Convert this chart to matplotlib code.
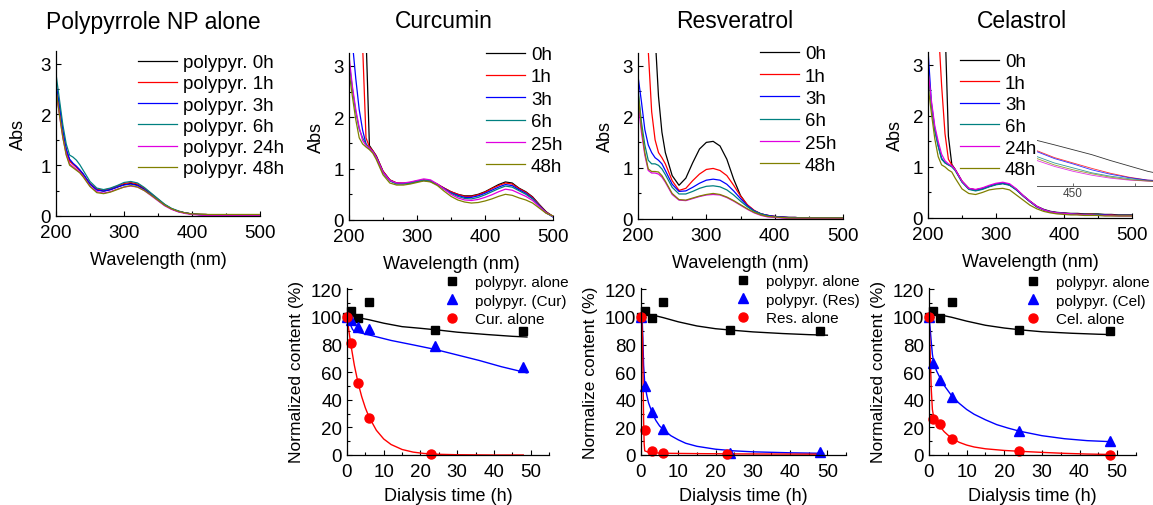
import matplotlib
matplotlib.use("Agg")
import matplotlib.pyplot as plt
from matplotlib.ticker import MultipleLocator

plt.rcParams['font.family'] = ['Liberation Sans', 'DejaVu Sans']

W, H = 1153, 506

# ---- UV-vis spectra (Abs vs wavelength) ----
WL = [200, 205, 210, 215, 220, 225, 230, 235, 240,
      250, 260, 270, 280, 290, 300, 310, 320, 330, 340,
      350, 360, 370, 380, 390, 400, 410, 420, 430, 440,
      450, 460, 470, 480, 490, 500]

ppy_0h = [2.55, 2.10, 1.65, 1.30, 1.10, 1.03, 0.97, 0.90, 0.82,
          0.63, 0.52, 0.49, 0.52, 0.57, 0.62, 0.64, 0.61, 0.53, 0.43,
          0.32, 0.22, 0.14, 0.09, 0.06, 0.04, 0.03, 0.03, 0.02, 0.02,
          0.02, 0.02, 0.02, 0.02, 0.02, 0.02]
ppy_1h = [2.50, 2.05, 1.62, 1.28, 1.08, 1.02, 0.96, 0.89, 0.81,
          0.64, 0.53, 0.51, 0.54, 0.59, 0.64, 0.66, 0.63, 0.55, 0.44,
          0.33, 0.22, 0.14, 0.09, 0.06, 0.04, 0.03, 0.03, 0.02, 0.02,
          0.02, 0.02, 0.02, 0.02, 0.02, 0.02]
ppy_3h = [2.60, 2.20, 1.70, 1.32, 1.12, 1.04, 0.98, 0.91, 0.83,
          0.63, 0.51, 0.49, 0.52, 0.57, 0.61, 0.63, 0.60, 0.52, 0.42,
          0.31, 0.21, 0.14, 0.09, 0.06, 0.04, 0.03, 0.02, 0.02, 0.02,
          0.02, 0.02, 0.02, 0.02, 0.02, 0.02]
ppy_6h = [2.80, 2.30, 1.80, 1.42, 1.20, 1.16, 1.10, 1.01, 0.90,
          0.68, 0.55, 0.52, 0.55, 0.60, 0.66, 0.68, 0.65, 0.56, 0.45,
          0.34, 0.23, 0.15, 0.10, 0.06, 0.04, 0.03, 0.03, 0.02, 0.02,
          0.02, 0.02, 0.02, 0.02, 0.02, 0.02]
ppy_24h = [2.45, 2.00, 1.55, 1.22, 1.03, 0.97, 0.92, 0.86, 0.78,
           0.59, 0.48, 0.45, 0.48, 0.53, 0.57, 0.59, 0.57, 0.50, 0.40,
           0.30, 0.20, 0.13, 0.08, 0.05, 0.03, 0.02, 0.01, 0.01, 0.01,
           0.01, 0.01, 0.01, 0.01, 0.01, 0.01]
ppy_48h = [2.50, 2.00, 1.55, 1.20, 1.00, 0.95, 0.90, 0.85, 0.77,
           0.58, 0.46, 0.44, 0.47, 0.52, 0.57, 0.60, 0.57, 0.50, 0.41,
           0.31, 0.21, 0.14, 0.09, 0.06, 0.04, 0.04, 0.03, 0.03, 0.03,
           0.03, 0.03, 0.03, 0.03, 0.03, 0.03]

cur_0h = [6.00, 6.00, 6.00, 5.50, 4.80, 3.60, 1.45, 1.35, 1.25,
          0.95, 0.78, 0.72, 0.71, 0.72, 0.75, 0.77, 0.75, 0.69, 0.62,
          0.55, 0.50, 0.47, 0.47, 0.50, 0.55, 0.62, 0.69, 0.74, 0.72,
          0.62, 0.55, 0.45, 0.30, 0.16, 0.07]
cur_1h = [6.00, 6.00, 5.50, 4.60, 3.40, 1.60, 1.42, 1.35, 1.25,
          0.95, 0.78, 0.72, 0.72, 0.73, 0.76, 0.78, 0.76, 0.70, 0.62,
          0.55, 0.50, 0.46, 0.46, 0.49, 0.54, 0.61, 0.67, 0.72, 0.70,
          0.61, 0.54, 0.44, 0.29, 0.15, 0.07]
cur_3h = [4.00, 3.45, 2.75, 2.15, 1.75, 1.48, 1.38, 1.33, 1.23,
          0.93, 0.77, 0.71, 0.71, 0.72, 0.75, 0.77, 0.75, 0.69, 0.61,
          0.53, 0.48, 0.44, 0.44, 0.47, 0.52, 0.58, 0.64, 0.69, 0.67,
          0.59, 0.52, 0.42, 0.28, 0.14, 0.06]
cur_6h = [3.10, 2.55, 2.10, 1.77, 1.60, 1.48, 1.40, 1.33, 1.22,
          0.92, 0.76, 0.70, 0.70, 0.72, 0.75, 0.78, 0.76, 0.69, 0.60,
          0.52, 0.46, 0.42, 0.41, 0.44, 0.49, 0.55, 0.61, 0.66, 0.64,
          0.57, 0.50, 0.41, 0.27, 0.14, 0.06]
cur_25h = [3.20, 2.60, 2.15, 1.80, 1.55, 1.45, 1.40, 1.33, 1.22,
           0.93, 0.77, 0.72, 0.72, 0.74, 0.77, 0.80, 0.78, 0.70, 0.60,
           0.50, 0.43, 0.39, 0.38, 0.40, 0.44, 0.49, 0.55, 0.60, 0.58,
           0.52, 0.46, 0.38, 0.26, 0.14, 0.07]
cur_48h = [2.90, 2.40, 1.95, 1.60, 1.48, 1.42, 1.37, 1.30, 1.18,
           0.88, 0.72, 0.68, 0.68, 0.70, 0.73, 0.76, 0.74, 0.67, 0.56,
           0.46, 0.39, 0.35, 0.33, 0.34, 0.37, 0.41, 0.46, 0.50, 0.48,
           0.43, 0.39, 0.33, 0.23, 0.13, 0.08]

res_0h = [6.00, 6.00, 6.00, 6.00, 5.00, 3.60, 2.40, 1.70, 1.30,
          0.85, 0.66, 0.80, 1.10, 1.37, 1.50, 1.52, 1.43, 1.17, 0.78,
          0.46, 0.27, 0.16, 0.10, 0.07, 0.05, 0.04, 0.03, 0.03, 0.02,
          0.02, 0.02, 0.02, 0.02, 0.02, 0.02]
res_1h = [6.00, 5.00, 4.20, 3.30, 2.10, 1.55, 1.30, 1.20, 1.08,
          0.75, 0.56, 0.60, 0.75, 0.88, 0.97, 0.99, 0.95, 0.85, 0.66,
          0.45, 0.28, 0.17, 0.10, 0.07, 0.05, 0.04, 0.03, 0.03, 0.02,
          0.02, 0.02, 0.02, 0.02, 0.02, 0.02]
res_3h = [2.80, 2.30, 1.75, 1.45, 1.30, 1.20, 1.15, 1.08, 0.95,
          0.68, 0.54, 0.55, 0.62, 0.70, 0.76, 0.78, 0.76, 0.68, 0.55,
          0.40, 0.26, 0.16, 0.10, 0.07, 0.05, 0.04, 0.03, 0.03, 0.02,
          0.02, 0.02, 0.02, 0.02, 0.02, 0.02]
res_6h = [2.55, 1.90, 1.45, 1.15, 1.08, 1.08, 1.05, 0.98, 0.87,
          0.62, 0.49, 0.49, 0.54, 0.60, 0.64, 0.65, 0.63, 0.57, 0.47,
          0.35, 0.24, 0.15, 0.10, 0.06, 0.04, 0.03, 0.03, 0.02, 0.02,
          0.02, 0.02, 0.02, 0.02, 0.02, 0.02]
res_25h = [2.30, 1.70, 1.25, 0.95, 0.90, 0.90, 0.88, 0.82, 0.72,
           0.48, 0.37, 0.36, 0.40, 0.44, 0.47, 0.48, 0.47, 0.42, 0.35,
           0.27, 0.19, 0.12, 0.07, 0.04, 0.03, 0.02, 0.01, 0.01, 0.01,
           0.01, 0.01, 0.01, 0.01, 0.01, 0.01]
res_48h = [2.50, 1.80, 1.30, 0.98, 0.93, 0.93, 0.92, 0.85, 0.74,
           0.50, 0.38, 0.37, 0.41, 0.45, 0.48, 0.50, 0.48, 0.43, 0.36,
           0.28, 0.20, 0.13, 0.08, 0.05, 0.04, 0.03, 0.02, 0.02, 0.02,
           0.02, 0.02, 0.02, 0.02, 0.02, 0.02]

cel_0h = [6.00, 6.00, 6.00, 5.50, 4.80, 3.80, 1.60, 1.05, 0.95,
          0.72, 0.58, 0.55, 0.58, 0.62, 0.66, 0.68, 0.65, 0.56, 0.44,
          0.33, 0.23, 0.17, 0.13, 0.11, 0.10, 0.09, 0.09, 0.08, 0.08,
          0.08, 0.07, 0.07, 0.06, 0.06, 0.06]
cel_1h = [6.00, 5.20, 4.50, 3.80, 2.60, 1.65, 1.15, 1.04, 0.95,
          0.72, 0.58, 0.55, 0.58, 0.62, 0.66, 0.68, 0.65, 0.56, 0.43,
          0.32, 0.22, 0.16, 0.12, 0.10, 0.09, 0.08, 0.08, 0.07, 0.07,
          0.06, 0.06, 0.06, 0.05, 0.05, 0.05]
cel_3h = [3.30, 2.25, 1.75, 1.42, 1.17, 1.08, 1.04, 1.02, 0.94,
          0.71, 0.57, 0.54, 0.57, 0.62, 0.66, 0.68, 0.65, 0.55, 0.43,
          0.32, 0.22, 0.16, 0.12, 0.10, 0.09, 0.08, 0.07, 0.07, 0.06,
          0.06, 0.06, 0.05, 0.05, 0.05, 0.05]
cel_6h = [2.90, 2.20, 1.70, 1.40, 1.15, 1.08, 1.04, 1.00, 0.93,
          0.70, 0.56, 0.53, 0.56, 0.61, 0.65, 0.67, 0.64, 0.55, 0.43,
          0.32, 0.22, 0.16, 0.12, 0.10, 0.09, 0.08, 0.07, 0.07, 0.06,
          0.06, 0.05, 0.05, 0.05, 0.05, 0.05]
cel_24h = [2.90, 2.30, 1.80, 1.50, 1.25, 1.12, 1.06, 1.02, 0.95,
           0.72, 0.58, 0.56, 0.59, 0.64, 0.68, 0.70, 0.67, 0.57, 0.44,
           0.33, 0.23, 0.16, 0.12, 0.10, 0.09, 0.08, 0.07, 0.06, 0.06,
           0.05, 0.05, 0.05, 0.04, 0.04, 0.04]
cel_48h = [2.60, 2.05, 1.55, 1.20, 1.04, 1.00, 0.94, 0.90, 0.78,
           0.57, 0.48, 0.46, 0.50, 0.55, 0.57, 0.58, 0.55, 0.45, 0.35,
           0.25, 0.18, 0.13, 0.10, 0.08, 0.07, 0.06, 0.06, 0.05, 0.05,
           0.05, 0.04, 0.04, 0.04, 0.04, 0.04]

# zoomed inset of celastrol spectra around 450 nm (relative units)
WL_INSET = [421, 435, 450, 465, 480, 495, 510, 525]
inset_0h = [0.93, 0.84, 0.74, 0.64, 0.52, 0.41, 0.30, 0.22]
inset_1h = [0.72, 0.58, 0.47, 0.36, 0.26, 0.18, 0.12, 0.10]
inset_3h = [0.70, 0.56, 0.45, 0.33, 0.24, 0.17, 0.12, 0.10]
inset_6h = [0.60, 0.47, 0.37, 0.27, 0.20, 0.15, 0.11, 0.09]
inset_24h = [0.52, 0.40, 0.30, 0.22, 0.16, 0.12, 0.10, 0.09]
inset_48h = [0.56, 0.43, 0.33, 0.25, 0.18, 0.13, 0.10, 0.08]

ppy_labels = ['polypyr. 0h', 'polypyr. 1h', 'polypyr. 3h',
              'polypyr. 6h', 'polypyr. 24h', 'polypyr. 48h']
cur_labels = ['0h', '1h', '3h', '6h', '25h', '48h']
res_labels = ['0h', '1h', '3h', '6h', '25h', '48h']
cel_labels = ['0h', '1h', '3h', '6h', '24h', '48h']

COLORS = ['#000000', '#FF0000', '#0000FF', '#008080', '#E000E0', '#808000']

# ---- dialysis release data ----
T = [0, 1, 3, 6, 24, 48]
ppy_alone = [100, 104, 99, 110.5, 90.5, 90]

ppy_cur = [100, 97.5, 93, 91.5, 79, 63.5]
T_cur_alone = [0, 1, 3, 6, 23]
cur_alone = [100, 81.5, 52.5, 26.5, 0.5]

ppy_res = [100, 50, 31, 18.5, 1.5, 2.2]
T_res_alone = [0, 1, 3, 6, 23]
res_alone = [100, 18, 3, 1.5, 0.8]

ppy_cel = [100, 66.5, 54, 42, 17.5, 10.5]
cel_alone = [100, 26, 22.5, 11.5, 3, 0.2]

# fitted curves
fit_ppy_cur_t = [0, 1, 3, 6, 10, 15, 20, 25, 30, 38, 45, 49]
fit_ppy_cur = [101, 100.5, 99.5, 98, 95.5, 93, 91.8, 90.5, 89, 87.3, 86, 85.5]
fit_pc_t = [0, 0.5, 1, 1.5, 2, 6, 12, 18, 24, 30, 36, 42, 49]
fit_pc = [100, 97, 94, 91, 89.5, 87, 83, 79.8, 76.5, 72.5, 68.5, 64, 59.5]
fit_cur_t = [0, 1, 2, 3, 4, 5, 6, 8, 10, 12, 15, 18, 21, 25, 30, 40, 48]
fit_cur = [100, 80.7, 65, 52.4, 42.3, 34.1, 27.5, 17.9, 11.6, 7.6, 4.0,
           2.1, 1.1, 0.5, 0.2, 0.0, 0.0]

fit_ppy_res_t = [0, 3, 6, 10, 15, 20, 25, 30, 38, 45, 50]
fit_ppy_res = [102.5, 101.5, 99.5, 96.5, 93.5, 91.5, 90.3, 89.2, 88, 87.2, 86.8]
fit_pr_t = [0.3, 0.5, 0.7, 1.0, 1.5, 2, 3, 4, 5, 6, 8, 10, 12, 15, 20, 25,
            30, 40, 49]
fit_pr = [100, 85, 65, 52, 44, 38, 30.5, 25, 21, 18.5, 14, 11, 8.5, 6.3,
          4.2, 3.0, 2.3, 1.6, 1.2]
fit_res_t = [0, 0.2, 0.4, 0.55, 0.7, 0.85, 1.0, 2, 4, 8, 15, 25, 35, 48]
fit_res = [100, 98, 85, 55, 25, 8, 3, 2, 1.5, 1.2, 1, 0.8, 0.7, 0.6]

fit_ppy_cel_t = [0, 3, 6, 10, 15, 20, 25, 30, 38, 45, 49]
fit_ppy_cel = [102.5, 101.5, 99.8, 97, 94, 92, 90.5, 89.3, 88.2, 87.5, 87.2]
fit_pl_t = [0, 0.3, 0.6, 0.9, 1.2, 2, 3, 4, 6, 8, 10, 12, 15, 18, 21, 24,
            30, 36, 42, 48]
fit_pl = [100, 92, 82, 73, 68, 61, 55.5, 50.5, 43, 37.5, 33, 29.5, 25.5, 22,
          19.5, 17.3, 14, 11.8, 10.4, 9.7]
fit_cel_t = [0, 0.3, 0.6, 0.9, 1.2, 2, 3, 4, 5, 6, 8, 10, 12, 15, 20, 24,
             30, 36, 42, 48]
fit_cel = [100, 75, 48, 33, 28, 24.5, 20.5, 17, 14.5, 12.3, 9.2, 7.2, 5.8,
           4.5, 3.3, 2.7, 1.9, 1.2, 0.7, 0.4]


def px_rect(x0, y_top, x1, y_bot):
    return [x0 / W, 1 - y_bot / H, (x1 - x0) / W, (y_bot - y_top) / H]


def fig_xy(x, y):
    return (x / W, 1 - y / H)


def style_axis(ax):
    for s in ['top', 'right']:
        ax.spines[s].set_visible(False)
    for s in ['left', 'bottom']:
        ax.spines[s].set_linewidth(0.9)
    ax.tick_params(which='both', direction='in', width=0.8, labelsize=13.5)
    ax.tick_params(which='major', length=3.5)
    ax.tick_params(which='minor', length=2)
    # push x tick labels a little lower so they clear the "0" of the y axis
    ax.tick_params(axis='x', which='major', pad=6)


def plot_spectra(fig, ax, series, labels, leg_x, leg_top, ylabel_pad, spacing):
    for ys, lab, c in zip(series, labels, COLORS):
        ax.plot(WL, ys, color=c, lw=0.9, label=lab)
    ax.set_xlim(200, 500)
    ax.set_ylim(0, 3.25)
    ax.set_xticks([200, 300, 400, 500])
    ax.xaxis.set_minor_locator(MultipleLocator(50))
    ax.set_yticks([0, 1, 2, 3])
    ax.yaxis.set_minor_locator(MultipleLocator(0.5))
    style_axis(ax)
    ax.set_ylabel('Abs', fontsize=13, labelpad=ylabel_pad)
    ax.set_xlabel('Wavelength (nm)', fontsize=13, labelpad=7)
    ax.legend(loc='upper left', bbox_to_anchor=fig_xy(leg_x, leg_top),
              bbox_transform=fig.transFigure, frameon=False, fontsize=13.5,
              handlelength=2.1, handletextpad=0.3, labelspacing=spacing,
              borderpad=0, borderaxespad=0)


def plot_release(fig, ax, pts, fits, labels, ylabel, leg_x, leg_top):
    (t_b, y_b), (t_u, y_u), (t_r, y_r) = pts
    (ft_b, fy_b), (ft_u, fy_u), (ft_r, fy_r) = fits
    ax.plot(ft_b, fy_b, color='black', lw=1.0)
    ax.plot(ft_u, fy_u, color='#0000FF', lw=1.0)
    ax.plot(ft_r, fy_r, color='#FF0000', lw=1.0)
    ax.plot(t_b, y_b, 's', color='black', ms=6, ls='none', label=labels[0],
            clip_on=False)
    ax.plot(t_u, y_u, '^', color='#0000FF', ms=7.5, ls='none',
            label=labels[1], clip_on=False)
    ax.plot(t_r, y_r, 'o', color='#FF0000', ms=6.5, ls='none',
            label=labels[2], clip_on=False)
    ax.set_xlim(0, 55)
    ax.set_ylim(0, 121)
    ax.set_xticks([0, 10, 20, 30, 40, 50])
    ax.xaxis.set_minor_locator(MultipleLocator(5))
    ax.set_yticks([0, 20, 40, 60, 80, 100, 120])
    ax.yaxis.set_minor_locator(MultipleLocator(10))
    style_axis(ax)
    ax.set_ylabel(ylabel, fontsize=12.5, labelpad=5)
    ax.set_xlabel('Dialysis time (h)', fontsize=13, labelpad=4.5)
    ax.legend(loc='upper left', bbox_to_anchor=fig_xy(leg_x, leg_top),
              bbox_transform=fig.transFigure, frameon=False, fontsize=11,
              handlelength=1.0, handletextpad=1.0, labelspacing=0.3,
              borderpad=0, borderaxespad=0, numpoints=1)


def main():
    fig = plt.figure(figsize=(W / 100, H / 100), dpi=100)

    ax1 = fig.add_axes(px_rect(56, 52, 260, 217))
    ax2 = fig.add_axes(px_rect(349, 54, 553, 221))
    ax3 = fig.add_axes(px_rect(638, 54, 843, 220))
    ax4 = fig.add_axes(px_rect(928, 53, 1132, 219))

    plot_spectra(fig, ax1, [ppy_0h, ppy_1h, ppy_3h, ppy_6h, ppy_24h, ppy_48h],
                 ppy_labels, 138, 55, 10, 0.22)
    plot_spectra(fig, ax2, [cur_0h, cur_1h, cur_3h, cur_6h, cur_25h, cur_48h],
                 cur_labels, 486, 47, 6, 0.28)
    plot_spectra(fig, ax3, [res_0h, res_1h, res_3h, res_6h, res_25h, res_48h],
                 res_labels, 760, 46, 6, 0.28)
    plot_spectra(fig, ax4, [cel_0h, cel_1h, cel_3h, cel_6h, cel_24h, cel_48h],
                 cel_labels, 960, 54, 6, 0.24)

    # inset on the celastrol panel
    axi = fig.add_axes(px_rect(1037, 138, 1190, 187))
    axi.set_facecolor('none')
    for ys, c in zip([inset_0h, inset_1h, inset_3h, inset_6h, inset_24h,
                      inset_48h], COLORS):
        axi.plot(WL_INSET, ys, color=c, lw=0.6, alpha=0.8)
    axi.set_xlim(421, 544)
    axi.set_ylim(0, 1)
    for s in ['top', 'right', 'left']:
        axi.spines[s].set_visible(False)
    axi.spines['bottom'].set_color('#555555')
    axi.spines['bottom'].set_linewidth(0.7)
    axi.set_yticks([])
    axi.set_xticks([450])
    axi.set_xticks([500], minor=True)
    axi.tick_params(which='both', direction='in', length=2, width=0.6,
                    color='#555555', labelsize=8.5, labelcolor='#444444', pad=1)

    titles = [('Polypyrrole NP alone', 153), ('Curcumin', 444),
              ('Resveratrol', 735), ('Celastrol', 1022)]
    for txt, x in titles:
        fig.text(x / W, 1 - 22 / H, txt, fontsize=16.5, ha='center',
                 va='center')

    ax5 = fig.add_axes(px_rect(347, 289, 549, 456))
    ax6 = fig.add_axes(px_rect(641, 289, 846, 456))
    ax7 = fig.add_axes(px_rect(929, 289, 1136, 456))

    plot_release(fig, ax5,
                 [(T, ppy_alone), (T, ppy_cur), (T_cur_alone, cur_alone)],
                 [(fit_ppy_cur_t, fit_ppy_cur), (fit_pc_t, fit_pc),
                  (fit_cur_t, fit_cur)],
                 ['polypyr. alone', 'polypyr. (Cur)', 'Cur. alone'],
                 'Normalized content (%)', 444, 276)
    plot_release(fig, ax6,
                 [(T, ppy_alone), (T, ppy_res), (T_res_alone, res_alone)],
                 [(fit_ppy_res_t, fit_ppy_res), (fit_pr_t, fit_pr),
                  (fit_res_t, fit_res)],
                 ['polypyr. alone', 'polypyr. (Res)', 'Res. alone'],
                 'Normalize content (%)', 735, 275)
    plot_release(fig, ax7,
                 [(T, ppy_alone), (T, ppy_cel), (T, cel_alone)],
                 [(fit_ppy_cel_t, fit_ppy_cel), (fit_pl_t, fit_pl),
                  (fit_cel_t, fit_cel)],
                 ['polypyr. alone', 'polypyr. (Cel)', 'Cel. alone'],
                 'Normalized content (%)', 1025, 276)

    fig.savefig('out.png', dpi=100)


if __name__ == "__main__":
    main()
